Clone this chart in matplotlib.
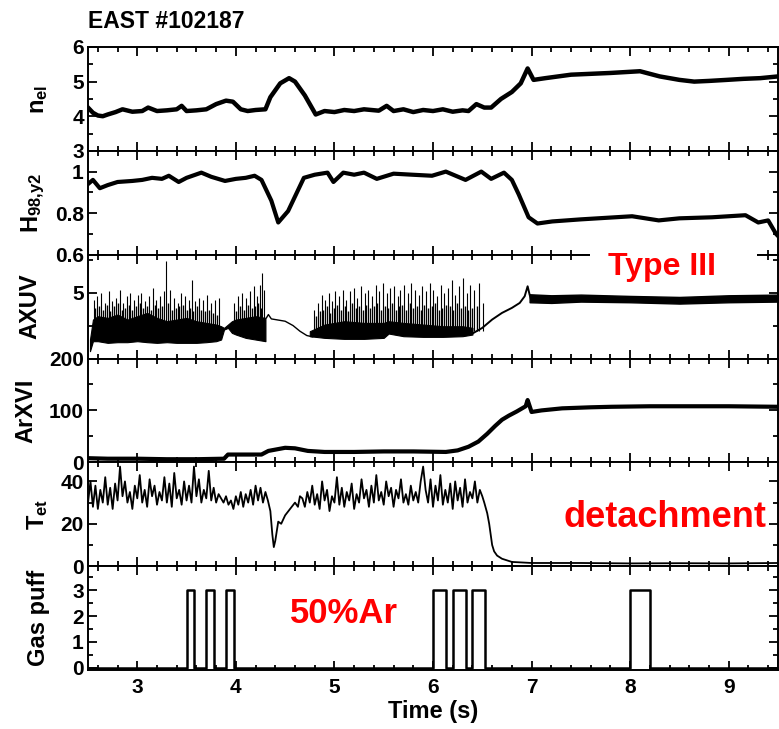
import numpy as np
import matplotlib
matplotlib.use('Agg')
import matplotlib.pyplot as plt
from matplotlib.patches import Rectangle
from matplotlib.ticker import MultipleLocator, FixedLocator, FormatStrFormatter

plt.rcParams['font.family'] = ['Liberation Sans', 'DejaVu Sans']
plt.rcParams['font.weight'] = 'bold'
plt.rcParams['axes.labelweight'] = 'bold'
plt.rcParams['mathtext.fontset'] = 'custom'
plt.rcParams['mathtext.rm'] = 'Liberation Sans:bold'
plt.rcParams['mathtext.it'] = 'Liberation Sans:bold'
plt.rcParams['mathtext.bf'] = 'Liberation Sans:bold'
plt.rcParams['mathtext.default'] = 'rm'

# line-averaged density
ne_t = [2.5, 2.55, 2.6, 2.65, 2.7, 2.78, 2.85, 2.95, 3.05, 3.11, 3.2, 3.3, 3.4, 3.45, 3.5,
        3.6, 3.7, 3.8, 3.85, 3.9, 3.97, 4.05, 4.12, 4.2, 4.3, 4.35, 4.45, 4.54, 4.6, 4.7,
        4.81, 4.9, 5.0, 5.1, 5.2, 5.3, 5.45, 5.53, 5.6, 5.7, 5.8, 5.9, 6.0, 6.1, 6.2,
        6.3, 6.36, 6.44, 6.52, 6.59, 6.69, 6.8, 6.89, 6.96, 7.02, 7.14, 7.4, 7.8, 8.1, 8.3,
        8.5, 8.65, 8.8, 8.98, 9.15, 9.32, 9.5]
ne_v = [4.25, 4.1, 4.02, 4.0, 4.05, 4.12, 4.2, 4.13, 4.15, 4.25, 4.15, 4.17, 4.2, 4.3, 4.15,
        4.17, 4.2, 4.35, 4.4, 4.45, 4.42, 4.2, 4.15, 4.18, 4.2, 4.55, 4.95, 5.1, 5.0, 4.6,
        4.05, 4.15, 4.12, 4.18, 4.15, 4.2, 4.16, 4.3, 4.15, 4.2, 4.12, 4.18, 4.15, 4.2, 4.13,
        4.17, 4.15, 4.35, 4.25, 4.25, 4.5, 4.7, 4.95, 5.38, 5.05, 5.1, 5.2, 5.25, 5.3, 5.15,
        5.05, 5.0, 5.02, 5.05, 5.08, 5.1, 5.15]

# H98,y2
h98_t = [2.5, 2.55, 2.62, 2.7, 2.8, 2.95, 3.05, 3.15, 3.25, 3.32, 3.42, 3.5, 3.65, 3.75, 3.89,
         4.0, 4.1, 4.19, 4.26, 4.36, 4.43, 4.53, 4.6, 4.69, 4.8, 4.93, 4.99, 5.09, 5.2, 5.3,
         5.43, 5.6, 5.79, 5.99, 6.13, 6.33, 6.49, 6.59, 6.72, 6.8, 6.87, 6.97, 7.06, 7.21, 7.5,
         8.02, 8.29, 8.5, 8.83, 9.17, 9.3, 9.4, 9.48, 9.5]
h98_v = [0.94, 0.96, 0.92, 0.935, 0.95, 0.955, 0.96, 0.97, 0.965, 0.98, 0.95, 0.97, 0.995, 0.975, 0.955,
         0.965, 0.97, 0.98, 0.96, 0.86, 0.755, 0.81, 0.88, 0.97, 0.985, 0.995, 0.95, 0.995, 0.985, 0.995,
         0.965, 0.99, 0.985, 0.98, 1.0, 0.96, 1.0, 0.965, 0.995, 0.96, 0.89, 0.78, 0.75, 0.76, 0.77,
         0.785, 0.765, 0.775, 0.78, 0.79, 0.755, 0.765, 0.70, 0.69]

# AXUV: dense ELM band (envelope) + individual spikes
axa_t = [2.52, 2.55, 2.6, 2.7, 2.8, 2.9, 3.0, 3.1, 3.2, 3.3, 3.4, 3.5, 3.6, 3.7, 3.8,
         3.85, 3.88, 3.92, 3.96, 4.0, 4.1, 4.2, 4.3]
axa_lo = [3.25, 3.55, 3.55, 3.5, 3.52, 3.52, 3.55, 3.52, 3.5, 3.52, 3.5, 3.5, 3.5, 3.52, 3.55,
          3.6, 3.9, 3.95, 3.8, 3.75, 3.65, 3.6, 3.55]
axa_hi = [3.6, 4.2, 4.3, 4.25, 4.35, 4.2, 4.3, 4.4, 4.25, 4.15, 4.2, 4.25, 4.15, 4.1, 4.05,
          4.0, 3.95, 4.05, 4.15, 4.2, 4.25, 4.3, 4.25]
axs_t = [4.31, 4.33, 4.36, 4.4, 4.5, 4.58, 4.65, 4.72, 4.78]
axs_v = [4.25, 4.35, 4.22, 4.2, 4.15, 4.02, 3.85, 3.72, 3.68]
axb_t = [4.75, 4.9, 5.1, 5.3, 5.5, 5.55, 5.7, 5.9, 6.1, 6.3, 6.4]
axb_lo = [3.7, 3.65, 3.62, 3.62, 3.65, 3.78, 3.7, 3.68, 3.68, 3.7, 3.75]
axb_hi = [3.85, 4.05, 4.15, 4.1, 4.1, 4.15, 4.1, 4.05, 4.0, 4.0, 3.95]
axr_t = [6.4, 6.5, 6.6, 6.7, 6.8, 6.88, 6.93, 6.96, 6.98, 7.0]
axr_v = [3.78, 3.95, 4.2, 4.4, 4.55, 4.7, 4.9, 5.2, 4.95, 4.75]
axc_t = [6.98, 7.2, 7.5, 8.0, 8.5, 9.0, 9.5]
axc_lo = [4.72, 4.7, 4.74, 4.72, 4.68, 4.72, 4.74]
axc_hi = [4.96, 4.93, 4.95, 4.91, 4.88, 4.93, 4.95]
# large spikes
spk_a_t = [2.56, 2.59, 2.63, 2.67, 2.71, 2.74, 2.78, 2.82, 2.86, 2.9, 2.93, 2.97, 3.01, 3.04, 3.08,
           3.12, 3.16, 3.19, 3.23, 3.27, 3.29, 3.33, 3.37, 3.41, 3.44, 3.48, 3.52, 3.55, 3.59, 3.63,
           3.67, 3.71, 3.75, 3.79, 3.83, 3.98, 4.02, 4.06, 4.1, 4.14, 4.18, 4.21, 4.24, 4.27, 4.29]
spk_a_v = [4.8, 4.9, 5.0, 4.7, 5.05, 4.75, 4.85, 5.1, 4.7, 4.9, 5.0, 4.8, 4.95, 5.0, 4.75,
           4.9, 5.15, 4.8, 4.9, 5.05, 5.95, 5.1, 4.85, 4.7, 5.0, 4.9, 4.8, 5.4, 4.75, 4.85,
           4.8, 4.95, 4.7, 4.8, 4.85, 4.7, 4.9, 5.0, 4.85, 5.05, 5.2, 4.9, 5.25, 5.6, 5.1]
spk_b_t = [4.79, 4.83, 4.87, 4.9, 4.94, 4.98, 5.01, 5.05, 5.09, 5.12, 5.16, 5.2, 5.23, 5.27, 5.31,
           5.34, 5.38, 5.42, 5.45, 5.49, 5.53, 5.56, 5.6, 5.64, 5.67, 5.71, 5.75, 5.78, 5.82, 5.86,
           5.89, 5.93, 5.97, 6.0, 6.04, 6.08, 6.11, 6.15, 6.19, 6.22, 6.26, 6.3, 6.34, 6.38, 6.42,
           6.47, 6.51]
spk_b_v = [4.5, 4.7, 4.95, 4.8, 5.0, 4.75, 5.05, 4.9, 5.1, 4.8, 5.05, 5.15, 4.85, 5.2, 5.0,
           5.1, 4.9, 5.25, 5.05, 5.3, 5.0, 5.15, 5.2, 4.9, 5.1, 5.25, 5.0, 5.3, 5.1, 4.95,
           5.2, 5.05, 5.3, 5.1, 4.9, 5.25, 5.0, 5.15, 5.4, 4.95, 5.2, 5.45, 5.0, 5.25, 5.1,
           5.3, 4.7]
# smaller spikes in between
spk_c_t = [2.575, 2.61, 2.65, 2.69, 2.725, 2.76, 2.8, 2.84, 2.88, 2.915, 2.95, 2.99, 3.025, 3.06, 3.1,
           3.14, 3.175, 3.21, 3.25, 3.31, 3.35, 3.39, 3.425, 3.46, 3.5, 3.535, 3.57, 3.61, 3.65, 3.69,
           3.73, 3.77, 3.81, 4.0, 4.04, 4.08, 4.12, 4.16, 4.195, 4.225, 4.255]
spk_c_v = [4.55, 4.6, 4.5, 4.65, 4.45, 4.6, 4.7, 4.5, 4.55, 4.65, 4.5, 4.6, 4.7, 4.55, 4.6,
           4.5, 4.65, 4.55, 4.6, 4.7, 4.5, 4.55, 4.6, 4.65, 4.5, 4.55, 4.45, 4.6, 4.5, 4.45,
           4.5, 4.4, 4.35, 4.45, 4.6, 4.5, 4.65, 4.55, 4.6, 4.7, 4.55]
spk_d_t = [4.81, 4.85, 4.885, 4.92, 4.96, 4.995, 5.03, 5.07, 5.105, 5.14, 5.18, 5.215, 5.25, 5.29, 5.325,
           5.36, 5.4, 5.435, 5.47, 5.51, 5.545, 5.58, 5.62, 5.655, 5.69, 5.73, 5.765, 5.8, 5.84, 5.875,
           5.91, 5.95, 5.985, 6.02, 6.06, 6.095, 6.13, 6.17, 6.205, 6.24, 6.28, 6.32, 6.36, 6.4, 6.445]
spk_d_v = [4.3, 4.45, 4.5, 4.6, 4.4, 4.55, 4.65, 4.5, 4.6, 4.45, 4.7, 4.55, 4.6, 4.5, 4.65,
           4.55, 4.6, 4.7, 4.5, 4.6, 4.55, 4.7, 4.5, 4.6, 4.65, 4.5, 4.7, 4.55, 4.6, 4.5,
           4.65, 4.55, 4.6, 4.7, 4.5, 4.55, 4.65, 4.6, 4.5, 4.7, 4.55, 4.6, 4.5, 4.55, 4.6]

# ArXVI
arx_t = [2.5, 2.7, 3.0, 3.3, 3.6, 3.88, 3.92, 4.1, 4.26, 4.33, 4.5, 4.6, 4.73, 4.9, 5.2,
         5.5, 5.8, 6.13, 6.25, 6.36, 6.46, 6.55, 6.63, 6.7, 6.77, 6.85, 6.94, 6.96, 7.0, 7.1,
         7.31, 7.6, 7.81, 8.2, 8.5, 9.0, 9.5]
arx_v = [8, 7, 7, 6, 6, 7, 15, 15, 15, 22, 28, 27, 22, 20, 20,
         21, 21, 20, 23, 30, 40, 55, 70, 82, 90, 98, 108, 120, 97, 100,
         104, 106, 107, 108, 108, 108, 107]

# Tet (target electron temperature), sampled every 25 ms before/after the dip
tet_a = [30, 40, 28, 38, 27, 36, 30, 42, 29, 37, 27, 39, 31, 47, 33, 40, 30, 35, 27, 38,
         32, 43, 30, 36, 28, 41, 33, 38, 29, 35, 31, 42, 30, 39, 28, 44, 32, 36, 29, 40,
         31, 38, 30, 47, 33, 41, 30, 36, 32, 45, 31, 37, 30, 34, 32, 30, 33, 29, 31, 27,
         33, 29, 35, 28, 34, 30, 36, 29, 38, 31, 37, 30, 35, 31]
tet_dip_t = [4.35, 4.37, 4.385, 4.4, 4.43, 4.46, 4.5, 4.55, 4.6, 4.63]
tet_dip_v = [26, 15, 9, 12, 21, 20, 24, 27, 30, 28]
tet_b = [33, 32, 28, 35, 30, 38, 29, 34, 27, 40, 31, 36, 26, 33, 30,
         42, 29, 37, 28, 35, 31, 39, 27, 34, 30, 41, 32, 36, 28, 38,
         30, 43, 31, 35, 29, 40, 33, 37, 28, 36, 32, 41, 30, 34, 29,
         38, 31, 35, 30, 40, 47, 36, 30, 41, 28, 38, 31, 43, 29, 36,
         30, 39, 27, 40, 31, 37, 28, 41, 30, 35, 32, 40, 30, 36, 33]
tet_c_t = [6.52, 6.55, 6.57, 6.6, 6.62, 6.65, 6.7, 6.8, 7.0, 7.5, 8.0, 8.5, 9.0, 9.5]
tet_c_v = [30, 25, 20, 10, 7, 5, 3.5, 2, 1.5, 1.5, 1.3, 1.4, 1.3, 1.5]

# 50% Ar gas puff pulses
puff_on = [3.5, 3.7, 3.9, 6.0, 6.2, 6.4, 8.0]
puff_off = [3.58, 3.78, 3.98, 6.13, 6.33, 6.53, 8.2]
puff_level = 3

W, H = 779, 729
fig = plt.figure(figsize=(W / 100, H / 100), dpi=100)
left, right, top, bottom = 88, 778, 47, 670
ph = (bottom - top) / 6
axs = []
for i in range(6):
    ax = fig.add_axes([left / W, 1 - (top + (i + 1) * ph) / H, (right - left) / W, ph / H])
    ax.set_xlim(2.5, 9.5)
    ax.xaxis.set_major_locator(MultipleLocator(1))
    ax.xaxis.set_minor_locator(MultipleLocator(0.2))
    ax.tick_params(which='both', direction='in', top=True, right=True, width=1.3,
                   labelsize=15, pad=3)
    ax.tick_params(which='major', length=6.5)
    ax.tick_params(which='minor', length=3.5)
    for s in ax.spines.values():
        s.set_linewidth(1.4)
    if i < 5:
        ax.tick_params(labelbottom=False)
    axs.append(ax)

ax = axs[0]
ax.plot(ne_t, ne_v, color='k', lw=3.2)
ax.set_ylim(3, 6)
ax.yaxis.set_major_locator(MultipleLocator(1))
ax.yaxis.set_minor_locator(MultipleLocator(0.5))
ax.set_ylabel(r'n$_{el}$', fontsize=17)
ax.yaxis.set_label_coords(-0.055, 0.5)

ax = axs[1]
ax.plot(h98_t, h98_v, color='k', lw=3.0)
ax.set_ylim(0.6, 1.1)
ax.yaxis.set_major_locator(FixedLocator([0.6, 0.8, 1.0]))
ax.yaxis.set_minor_locator(MultipleLocator(0.1))
ax.yaxis.set_major_formatter(FormatStrFormatter('%g'))
ax.set_ylabel(r'H$_{98{,}y2}$', fontsize=17)
ax.yaxis.set_label_coords(-0.06, 0.5)

ax = axs[2]
ax.fill_between(axa_t, axa_lo, axa_hi, color='k', lw=0.8)
ax.vlines(spk_c_t, 3.9, spk_c_v, color='k', lw=1.0)
ax.vlines(spk_a_t, 3.9, spk_a_v, color='k', lw=0.8)
ax.plot(axs_t, axs_v, color='k', lw=1.0)
ax.fill_between(axb_t, axb_lo, axb_hi, color='k', lw=0.8)
ax.vlines(spk_d_t, 3.85, spk_d_v, color='k', lw=1.0)
ax.vlines(spk_b_t, 3.85, spk_b_v, color='k', lw=0.8)
ax.plot(axr_t, axr_v, color='k', lw=1.4)
ax.fill_between(axc_t, axc_lo, axc_hi, color='k', lw=1.0)
ax.set_ylim(3.03, 6.15)
ax.yaxis.set_major_locator(FixedLocator([5]))
ax.yaxis.set_minor_locator(FixedLocator([4, 6]))
ax.set_ylabel('AXUV', fontsize=17)
ax.yaxis.set_label_coords(-0.067, 0.5)

ax = axs[3]
ax.plot(arx_t, arx_v, color='k', lw=3.0)
ax.set_ylim(0, 200)
ax.yaxis.set_major_locator(MultipleLocator(100))
ax.yaxis.set_minor_locator(MultipleLocator(50))
ax.set_ylabel('ArXVI', fontsize=17)
ax.yaxis.set_label_coords(-0.074, 0.5)

ax = axs[4]
ta = np.linspace(2.5, 4.325, len(tet_a))
tb = np.linspace(4.65, 6.5, len(tet_b))
tet_t = np.concatenate([ta, tet_dip_t, tb, tet_c_t])
tet_v = np.concatenate([tet_a, tet_dip_v, tet_b, tet_c_v])
ax.plot(tet_t, tet_v, color='k', lw=1.3)
ax.set_ylim(0, 49)
ax.yaxis.set_major_locator(MultipleLocator(20))
ax.yaxis.set_minor_locator(MultipleLocator(10))
ax.set_ylabel(r'T$_{et}$', fontsize=17)
ax.yaxis.set_label_coords(-0.055, 0.5)

ax = axs[5]
gx, gy = [2.5], [0]
for a, b in zip(puff_on, puff_off):
    gx += [a, a, b, b]
    gy += [0, puff_level, puff_level, 0]
gx.append(9.5)
gy.append(0)
ax.plot(gx, gy, color='k', lw=1.8)
ax.set_ylim(-0.08, 3.92)
ax.yaxis.set_major_locator(MultipleLocator(1))
ax.yaxis.set_minor_locator(MultipleLocator(0.5))
ax.set_ylabel('Gas puff', fontsize=17)
ax.yaxis.set_label_coords(-0.055, 0.5)
ax.set_xlabel('Time (s)', fontsize=17, labelpad=2)
ax.tick_params(axis='x', pad=6)

fig.text(88 / W, 1 - 28 / H, 'EAST #102187', fontsize=16.5, ha='left', va='baseline')
fig.add_artist(Rectangle((590 / W, 1 - 264 / H), 167 / W, 18 / H, transform=fig.transFigure,
                         facecolor='white', edgecolor='none', zorder=5))
fig.text(662 / W, 1 - 275 / H, 'Type III', color='#ff0000', fontsize=23,
         ha='center', va='baseline', zorder=6)
fig.text(665 / W, 1 - 527 / H, 'detachment', color='#ff0000', fontsize=26,
         ha='center', va='baseline', zorder=6)
fig.text(290 / W, 1 - 623 / H, '50%Ar', color='#ff0000', fontsize=25,
         ha='left', va='baseline', zorder=6)

fig.savefig('out.png', dpi=100)
